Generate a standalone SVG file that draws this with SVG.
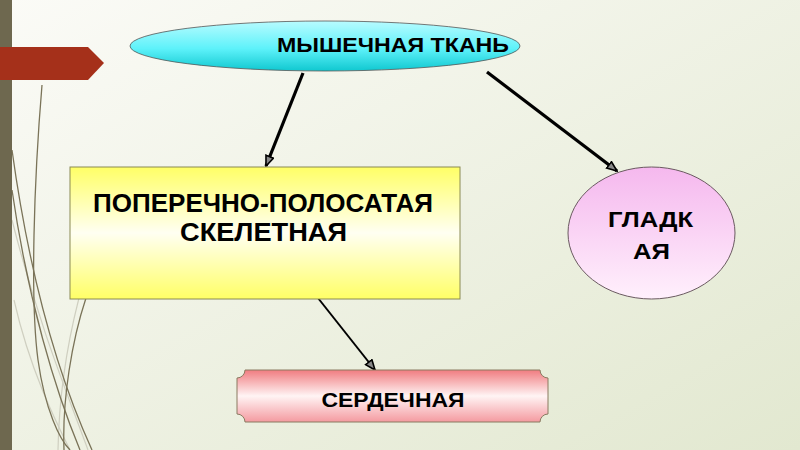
<svg xmlns="http://www.w3.org/2000/svg" width="800" height="450" viewBox="0 0 800 450">
<defs>
<linearGradient id="bg" x1="0" y1="0" x2="1" y2="1">
<stop offset="0" stop-color="#fbfbf7"/>
<stop offset="1" stop-color="#e2e8d0"/>
</linearGradient>
<linearGradient id="cyan" x1="0" y1="0" x2="0" y2="1">
<stop offset="0" stop-color="#b8fbff"/>
<stop offset="0.55" stop-color="#5ef2fa"/>
<stop offset="1" stop-color="#10c8d0"/>
</linearGradient>
<linearGradient id="yel" x1="0" y1="0" x2="0" y2="1">
<stop offset="0" stop-color="#ffff66"/>
<stop offset="0.5" stop-color="#fffff2"/>
<stop offset="1" stop-color="#ffff66"/>
</linearGradient>
<linearGradient id="pink" x1="0" y1="0" x2="0" y2="1">
<stop offset="0" stop-color="#f5b8ee"/>
<stop offset="1" stop-color="#fff0fc"/>
</linearGradient>
<linearGradient id="red" x1="0" y1="0" x2="0" y2="1">
<stop offset="0" stop-color="#f07c80"/>
<stop offset="0.5" stop-color="#fff4f4"/>
<stop offset="1" stop-color="#f49aa0"/>
</linearGradient>
<marker id="ah" viewBox="0 0 12 10" refX="11" refY="5" markerWidth="12" markerHeight="10" markerUnits="userSpaceOnUse" orient="auto">
<path d="M1,1 L11,5 L1,9 Z" fill="#888" stroke="#000" stroke-width="1.6"/>
</marker>
<style>
.t{font-family:"Liberation Sans",Arial,sans-serif;font-weight:bold;fill:#000;text-anchor:middle}
.edge{stroke:#000;fill:none}
.deco{fill:none;stroke:#7a7358;stroke-width:1.3}
.deco2{fill:none;stroke:#cfcfc0;stroke-width:1.2}
</style>
</defs>
<rect width="800" height="450" fill="url(#bg)"/>
<g id="decor">
<path class="deco2" d="M12,220 C40,330 70,400 88,450"/>
<path class="deco2" d="M14,300 C30,370 55,420 70,450"/>
<path class="deco2" d="M120,180 C90,250 60,340 58,450"/>
<path class="deco" d="M42,85 C34,180 30,300 38,360 C45,410 60,440 70,450"/>
<path class="deco" d="M12,150 C30,280 60,380 92,450"/>
<path class="deco" d="M12,190 C28,300 55,390 80,450"/>
<path class="deco" d="M86,298 C72,340 62,400 64,450"/>
<rect x="0" y="0" width="12" height="450" fill="#6e684f"/>
<path d="M0,47 L88,47 L104,63 L88,80 L0,80 Z" fill="#a5301a"/>
</g>
<g id="connectors">
<line class="edge" x1="303" y1="73" x2="266" y2="166" stroke-width="3.2" marker-end="url(#ah)"/>
<line class="edge" x1="487" y1="72" x2="617" y2="171" stroke-width="3.2" marker-end="url(#ah)"/>
<line class="edge" x1="318" y1="298" x2="375" y2="370" stroke-width="2" marker-end="url(#ah)"/>
</g>
<g id="n-muscle">
<ellipse cx="325" cy="46" rx="195" ry="25" fill="url(#cyan)" stroke="#555" stroke-width="0.8"/>
<text class="t" x="393" y="52" font-size="20" textLength="232" lengthAdjust="spacingAndGlyphs">МЫШЕЧНАЯ ТКАНЬ</text>
</g>
<g id="n-striated">
<rect x="70" y="167" width="390" height="132" fill="url(#yel)" stroke="#8a8a55" stroke-width="1"/>
<text class="t" x="263" y="212" font-size="26" textLength="340" lengthAdjust="spacingAndGlyphs">ПОПЕРЕЧНО-ПОЛОСАТАЯ</text>
<text class="t" x="263.5" y="241" font-size="26" textLength="167" lengthAdjust="spacingAndGlyphs">СКЕЛЕТНАЯ</text>
</g>
<g id="n-smooth">
<ellipse cx="651.5" cy="233" rx="83.5" ry="66" fill="url(#pink)" stroke="#6a5a60" stroke-width="1"/>
<text class="t" x="650.5" y="227" font-size="22" textLength="85" lengthAdjust="spacingAndGlyphs">ГЛАДК</text>
<text class="t" x="651.5" y="259" font-size="22" textLength="37" lengthAdjust="spacingAndGlyphs">АЯ</text>
</g>
<g id="n-cardiac">
<path d="M245,370 L540,370 A8,8 0 0 0 548,378 L548,414 A8,8 0 0 0 540,422 L245,422 A8,8 0 0 0 237,414 L237,378 A8,8 0 0 0 245,370 Z" fill="url(#red)" stroke="#8a7a60" stroke-width="1"/>
<text class="t" x="393" y="407" font-size="20.5" textLength="143" lengthAdjust="spacingAndGlyphs">СЕРДЕЧНАЯ</text>
</g>
</svg>
